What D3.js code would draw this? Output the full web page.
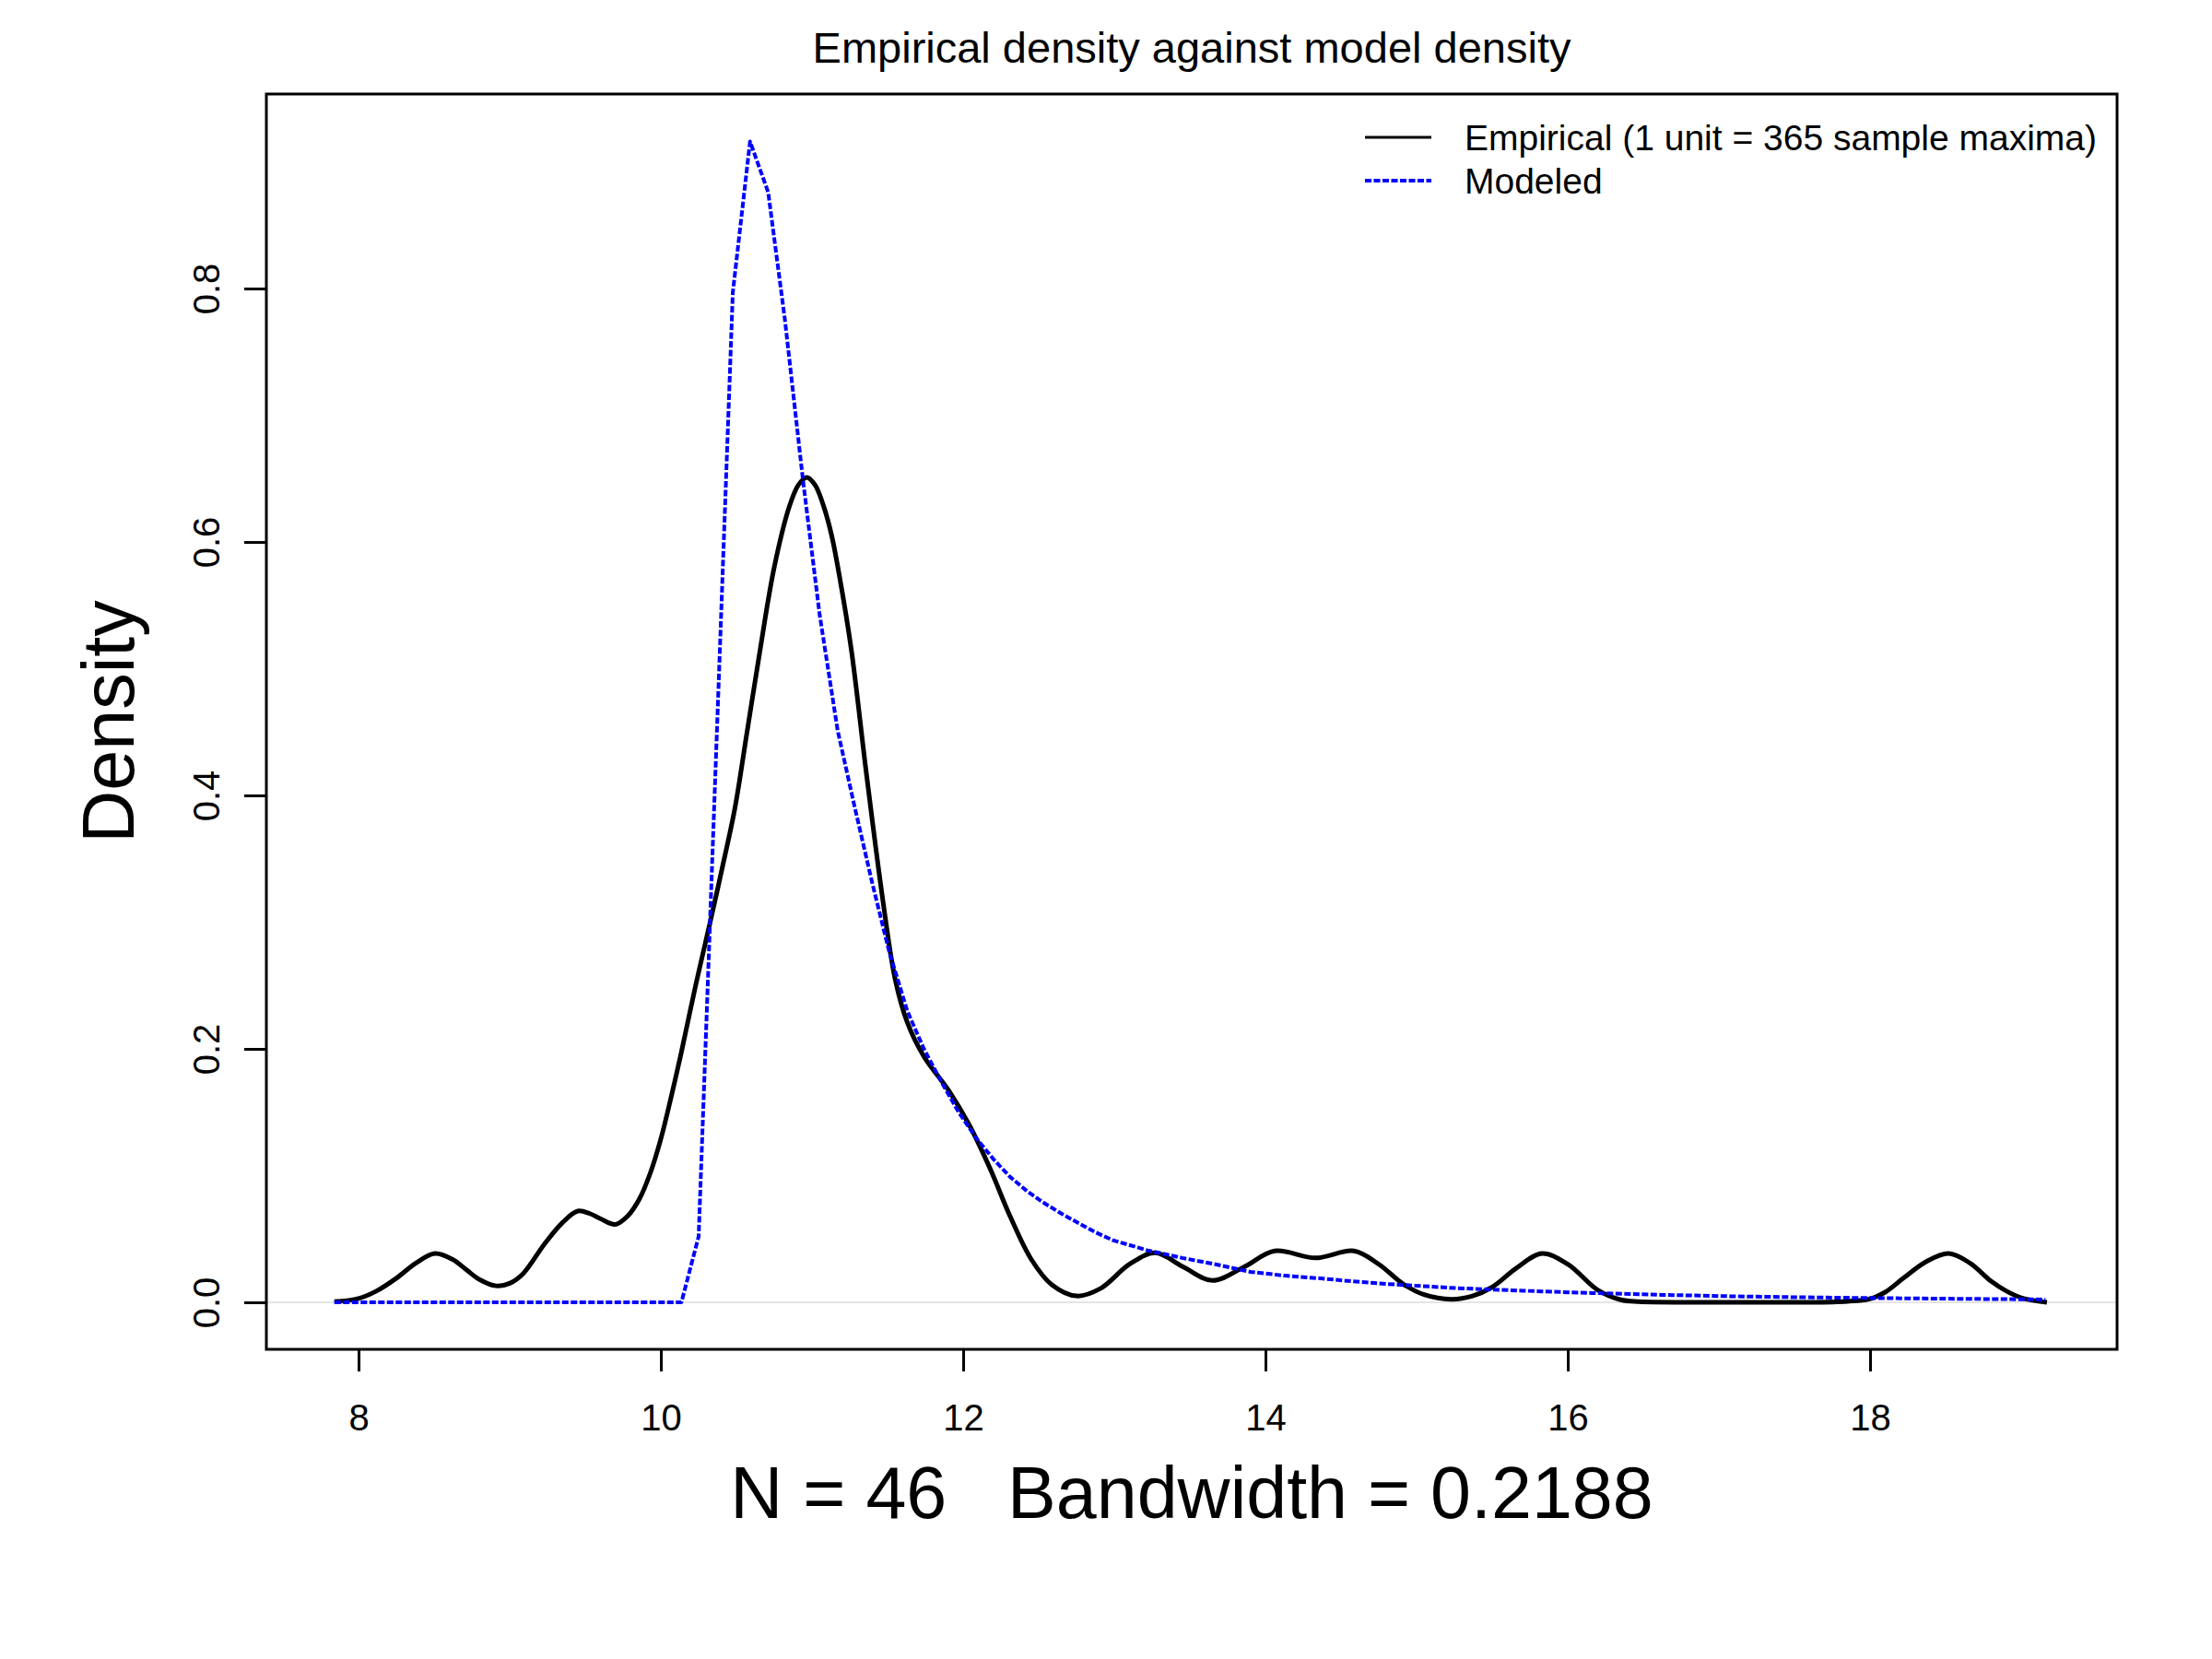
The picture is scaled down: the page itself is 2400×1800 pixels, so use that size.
<!DOCTYPE html>
<html>
  <head>
    <meta charset="UTF-8">
    <script src="https://d3js.org/d3.v7.min.js"></script>
    <style>
      body { margin: 0; background: #fff; }
      svg text { font-family: "Liberation Sans", Arial, sans-serif; fill: #000; }
    </style>
    <title>Empirical density against model density</title>
  </head>
  <body>
    <svg id="plot" width="2400" height="1800"></svg>
    <script>
      // values
      const empX = [7.84, 8.00, 8.12, 8.25, 8.38, 8.505, 8.62, 8.71, 8.80, 8.91, 9.00, 9.09, 9.23, 9.35, 9.45,
                    9.53, 9.60, 9.70, 9.78, 9.86, 9.93, 10.0, 10.07, 10.135, 10.23, 10.33, 10.41, 10.49, 10.57,
                    10.65, 10.75, 10.85, 10.91, 10.965, 11.02, 11.08, 11.13, 11.18, 11.26, 11.36, 11.47, 11.55, 11.63,
                    11.74, 11.905, 12.04, 12.18, 12.31, 12.45, 12.585, 12.75, 12.91, 13.10, 13.27, 13.455, 13.65,
                    13.86, 14.06, 14.33, 14.585, 14.75, 14.91, 15.05, 15.23, 15.37, 15.50, 15.66, 15.83, 16.00,
                    16.20, 16.35, 16.47, 16.8, 17.2, 17.6, 17.85, 17.99, 18.10, 18.22, 18.37, 18.52, 18.66,
                    18.80, 18.90, 19.0, 19.17];
      const empY = [0.0005, 0.003, 0.009, 0.019, 0.031, 0.0385, 0.034, 0.026, 0.018, 0.013, 0.015, 0.0228, 0.046, 0.063, 0.072,
                    0.070, 0.066, 0.0615, 0.068, 0.082, 0.102, 0.129, 0.163, 0.197, 0.25, 0.302, 0.345, 0.39, 0.45,
                    0.51, 0.58, 0.628, 0.645, 0.651, 0.645, 0.627, 0.605, 0.574, 0.515, 0.417, 0.316, 0.255, 0.221,
                    0.194, 0.167, 0.140, 0.105, 0.068, 0.034, 0.014, 0.005, 0.011, 0.030, 0.039, 0.028, 0.0172,
                    0.028, 0.0405, 0.035, 0.0405, 0.030, 0.0145, 0.006, 0.0024, 0.005, 0.012, 0.027, 0.0385, 0.030,
                    0.0095, 0.002, 0.0005, 0.0, 0.0, 0.0, 0.0008, 0.0024, 0.008, 0.019, 0.032, 0.0385, 0.031,
                    0.0167, 0.009, 0.0036, 0.0];

      const modX = [7.84, 10.136, 10.25, 10.36, 10.476, 10.59, 10.71, 10.82, 10.94, 11.05, 11.17, 11.28, 11.40,
                    11.51, 11.63, 11.74, 11.86, 11.97, 12.09, 12.20, 12.31, 12.43, 12.54, 12.65, 12.77, 12.88,
                    12.99, 13.22, 13.45, 13.67, 13.90, 14.13, 14.35, 14.58, 14.80, 15.26, 15.71, 16.16, 16.62,
                    17.07, 17.52, 17.98, 18.43, 18.88, 19.16];
      const modY = [0, 0, 0.052, 0.415, 0.797, 0.916, 0.876, 0.776, 0.649, 0.543, 0.451, 0.392, 0.330,
                    0.277, 0.230, 0.200, 0.173, 0.150, 0.129, 0.113, 0.099, 0.087, 0.078, 0.070, 0.062, 0.055,
                    0.049, 0.041, 0.035, 0.030, 0.024, 0.021, 0.019, 0.0165, 0.0145, 0.0112, 0.0091, 0.0073, 0.0059,
                    0.0048, 0.0040, 0.0034, 0.0029, 0.0025, 0.0022];

      const xTicks = [8, 10, 12, 14, 16, 18];
      const yTicks = [0, 0.2, 0.4, 0.6, 0.8];
      const yTickLabels = ["0.0", "0.2", "0.4", "0.6", "0.8"];

      const svg = d3.select("svg#plot");
      const box = { left: 289, right: 2297, top: 102, bottom: 1464 };

      const xScale = d3.scaleLinear().domain([7.39, 19.634]).range([box.left, box.right]);
      const yScale = d3.scaleLinear().domain([-0.0371, 0.9535]).range([box.bottom, box.top]);

      svg.append("rect").attr("width", 2400).attr("height", 1800).attr("fill", "#fff");

      // zero line
      svg.append("line")
         .attr("x1", box.left).attr("x2", box.right)
         .attr("y1", yScale(0)).attr("y2", yScale(0))
         .attr("stroke", "#dcdcdc").attr("stroke-width", 1.5);

      const empirical = empX.map((x, i) => ({ x: x, y: empY[i] }));
      const modeled = modX.map((x, i) => ({ x: x, y: modY[i] }));

      svg.append("path")
         .datum(empirical)
         .attr("fill", "none")
         .attr("stroke", "#000")
         .attr("stroke-width", 5)
         .attr("stroke-linejoin", "round")
         .attr("d", d3.line().x(d => xScale(d.x)).y(d => yScale(d.y)).curve(d3.curveCatmullRom.alpha(0.5)));

      svg.append("path")
         .datum(modeled)
         .attr("fill", "none")
         .attr("stroke", "#0000ff")
         .attr("stroke-width", 4)
         .attr("stroke-dasharray", "7,2.5")
         .attr("stroke-linejoin", "round")
         .attr("d", d3.line().x(d => xScale(d.x)).y(d => yScale(d.y)));

      // box
      svg.append("rect")
         .attr("x", box.left).attr("y", box.top)
         .attr("width", box.right - box.left).attr("height", box.bottom - box.top)
         .attr("fill", "none").attr("stroke", "#000").attr("stroke-width", 3);

      // x axis
      const xAxis = d3.axisBottom(xScale).tickValues(xTicks).tickSize(24).tickPadding(36).tickFormat(d3.format("d"));
      const gx = svg.append("g").attr("transform", "translate(0," + box.bottom + ")").call(xAxis);
      gx.select(".domain").remove();
      gx.selectAll(".tick line").attr("stroke", "#000").attr("stroke-width", 3);
      gx.selectAll(".tick text").attr("font-size", 40).attr("font-family", "Liberation Sans, Arial, sans-serif");

      // y axis, labels rotated as in R
      const yAxis = d3.axisLeft(yScale).tickValues(yTicks).tickSize(24).tickFormat((d, i) => yTickLabels[i]);
      const gy = svg.append("g").attr("transform", "translate(" + box.left + ",0)").call(yAxis);
      gy.select(".domain").remove();
      gy.selectAll(".tick line").attr("stroke", "#000").attr("stroke-width", 3);
      gy.selectAll(".tick text")
        .attr("font-size", 40)
        .attr("font-family", "Liberation Sans, Arial, sans-serif")
        .attr("x", null).attr("dy", null)
        .attr("text-anchor", "middle")
        .attr("transform", "translate(-51,0) rotate(-90)");

      // title and axis labels
      svg.append("text")
         .attr("x", (box.left + box.right) / 2).attr("y", 68)
         .attr("text-anchor", "middle").attr("font-size", 47)
         .text("Empirical density against model density");

      svg.append("text")
         .attr("x", (box.left + box.right) / 2).attr("y", 1647)
         .attr("text-anchor", "middle").attr("font-size", 79)
         .style("white-space", "pre")
         .text("N = 46   Bandwidth = 0.2188");

      svg.append("text")
         .attr("transform", "translate(145," + (box.top + box.bottom) / 2 + ") rotate(-90)")
         .attr("text-anchor", "middle").attr("font-size", 79)
         .text("Density");

      // legend
      const legend = [
        { label: "Empirical (1 unit = 365 sample maxima)", color: "#000", width: 3, dash: null },
        { label: "Modeled", color: "#0000ff", width: 4, dash: "7,2.5" }
      ];
      const lg = svg.append("g");
      legend.forEach((d, i) => {
        const cy = 149 + i * 47;
        lg.append("line")
          .attr("x1", 1481).attr("x2", 1553).attr("y1", cy).attr("y2", cy)
          .attr("stroke", d.color).attr("stroke-width", d.width)
          .attr("stroke-dasharray", d.dash);
        lg.append("text")
          .attr("x", 1589).attr("y", cy + 14)
          .attr("font-size", 39)
          .text(d.label);
      });
    </script>
  </body>
</html>
